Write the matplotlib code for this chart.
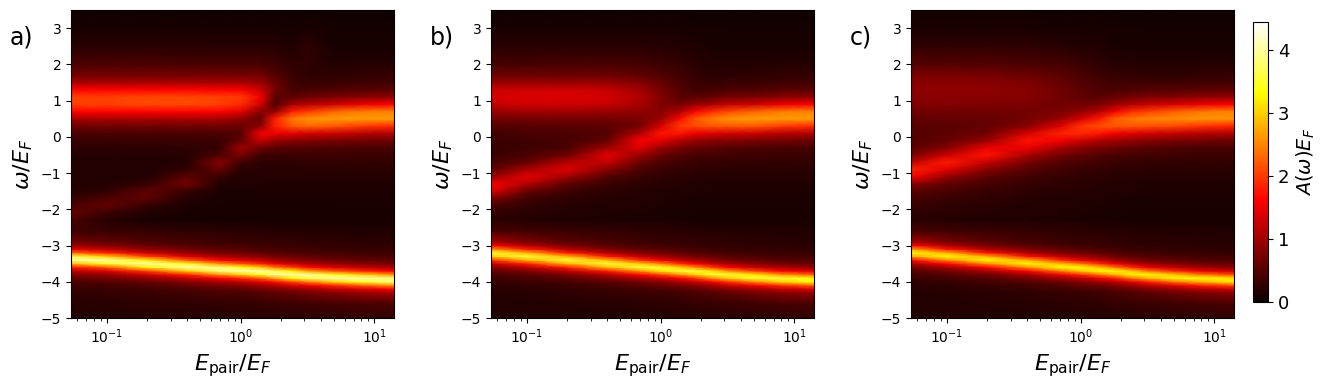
import numpy as np
import matplotlib
matplotlib.use('Agg')
import matplotlib.pyplot as plt

# columns of the tables below
e_pair = [0.054, 0.1, 0.2, 0.4, 0.7, 1.0, 1.4, 1.8, 2.4, 3.2, 5.0, 8.0, 14.0]
omega = [-5, -4.6,
         -4.3, -4.2, -4.1, -4.0, -3.9, -3.8, -3.7, -3.6, -3.5, -3.4, -3.3, -3.2, -3.1, -3.0, -2.9,
         -2.6,
         -2.3, -2.1, -1.9, -1.7, -1.5, -1.3, -1.1, -0.9, -0.7, -0.5, -0.3, -0.1,
         0.1, 0.3, 0.5, 0.7, 0.9, 1.1, 1.3, 1.5, 1.7, 2.0, 2.5, 3.0, 3.5]

# one row per e_pair value, one entry per omega value
panel_a = [
    [.16,.2, .26,.31,.36,.44,.58,.8,1.15,1.75,2.85,4.0,3.6,2.35,1.45,.98,.7, .35, .42,.62,.42,.28,.2,.16,.14,.14,.15,.18,.24,.32,.45,.68,1.05,1.65,2.05,2.05,1.65,1.05,.72,.45,.2,.1,.05],
    [.17,.22, .28,.33,.4,.5,.68,.95,1.4,2.2,3.45,4.05,3.0,1.85,1.2,.82,.6, .32, .2,.32,.6,.48,.26,.18,.15,.14,.15,.18,.24,.32,.45,.68,1.05,1.65,2.05,2.05,1.65,1.05,.72,.45,.2,.1,.05],
    [.18,.24, .32,.38,.48,.63,.88,1.3,2.05,3.25,4.05,3.25,2.05,1.3,.88,.63,.48, .28, .12,.15,.28,.55,.58,.3,.19,.15,.15,.18,.24,.32,.45,.68,1.05,1.65,2.1,2.1,1.65,1.05,.72,.45,.2,.1,.05],
    [.18,.25, .37,.45,.6,.82,1.2,1.85,3.0,4.05,3.45,2.2,1.4,.95,.68,.5,.4, .25, .1,.11,.13,.17,.3,.7,.55,.28,.2,.2,.25,.32,.45,.68,1.05,1.65,2.1,2.1,1.65,1.05,.72,.42,.2,.1,.05],
    [.19,.27, .42,.55,.74,1.05,1.6,2.6,3.85,3.85,2.6,1.6,1.05,.74,.55,.42,.35, .24, .1,.1,.11,.12,.13,.17,.3,.6,.85,.45,.3,.33,.45,.68,1.05,1.6,2.05,2.05,1.6,1.05,.72,.42,.2,.1,.05],
    [.2,.28, .45,.6,.82,1.2,1.85,3.0,4.05,3.45,2.2,1.4,.95,.68,.5,.4,.33, .22, .1,.1,.1,.11,.12,.14,.17,.22,.35,.75,1.0,.6,.5,.65,.9,1.45,1.9,2.0,1.6,1.05,.72,.42,.2,.1,.05],
    [.2,.3, .5,.68,.95,1.4,2.2,3.45,4.05,3.0,1.85,1.2,.82,.6,.45,.37,.31, .2, .1,.1,.1,.11,.13,.15,.18,.2,.25,.35,.65,1.25,1.55,.85,.6,.85,1.35,1.55,1.3,.95,.7,.42,.2,.1,.05],
    [.21,.32, .56,.77,1.1,1.7,2.7,3.95,3.7,2.45,1.5,1.0,.72,.53,.41,.34,.29, .19, .1,.1,.1,.11,.13,.15,.18,.2,.25,.33,.55,.95,1.5,1.8,1.8,.9,.45,.55,.7,.65,.5,.35,.18,.1,.05],
    [.22,.34, .63,.88,1.3,2.05,3.25,4.05,3.25,2.05,1.3,.88,.63,.48,.38,.32,.27, .18, .1,.1,.1,.11,.13,.15,.18,.2,.25,.33,.5,.85,1.45,2.2,2.4,1.8,1.0,.55,.4,.38,.32,.25,.14,.08,.05],
    [.23,.36, .72,1.0,1.5,2.45,3.7,3.95,2.7,1.7,1.1,.77,.56,.43,.35,.3,.25, .17, .1,.1,.1,.11,.13,.15,.18,.22,.27,.35,.48,.8,1.35,2.3,2.6,2.0,1.15,.65,.42,.3,.24,.25,.25,.12,.05],
    [.24,.4, .82,1.2,1.85,3.0,4.05,3.45,2.2,1.4,.95,.68,.5,.4,.33,.28,.24, .16, .1,.1,.11,.12,.13,.15,.18,.22,.27,.35,.45,.75,1.3,2.2,2.65,2.3,1.3,.75,.48,.33,.25,.17,.1,.07,.05],
    [.25,.42, .95,1.4,2.2,3.45,4.05,3.0,1.85,1.2,.82,.6,.45,.37,.31,.26,.23, .15, .1,.1,.11,.12,.13,.15,.18,.22,.27,.33,.42,.7,1.15,2.0,2.65,2.45,1.5,.85,.52,.36,.27,.18,.1,.07,.05],
    [.26,.45, 1.05,1.6,2.6,3.85,3.85,2.6,1.6,1.05,.74,.55,.42,.35,.3,.25,.22, .14, .1,.1,.11,.12,.13,.15,.18,.22,.27,.33,.4,.65,1.1,1.9,2.65,2.5,1.6,.9,.55,.38,.28,.18,.1,.07,.05],
]

panel_b = [
    [.14,.16, .19,.21,.24,.29,.35,.44,.59,.83,1.22,1.92,3.0,3.55,2.6,1.6,1.05, .42, .22,.28,.4,.75,1.4,1.6,.95,.55,.4,.33,.3,.32,.38,.5,.7,.95,1.25,1.35,1.3,.95,.65,.4,.2,.1,.05],
    [.14,.17, .2,.24,.28,.33,.42,.55,.77,1.13,1.8,2.85,3.55,2.85,1.8,1.13,.77, .38, .18,.21,.27,.38,.62,1.1,1.45,1.05,.6,.42,.35,.36,.42,.52,.72,1.0,1.3,1.4,1.3,.95,.65,.4,.2,.1,.05],
    [.15,.18, .24,.28,.33,.42,.55,.77,1.13,1.8,2.85,3.55,2.85,1.8,1.13,.77,.55, .32, .15,.17,.2,.25,.35,.55,1.0,1.4,1.15,.65,.45,.4,.45,.55,.72,1.0,1.3,1.4,1.3,.95,.65,.42,.2,.1,.05],
    [.15,.2, .28,.33,.42,.55,.77,1.13,1.8,2.85,3.55,2.85,1.8,1.13,.77,.55,.42, .28, .13,.14,.16,.19,.24,.32,.48,.82,1.25,1.45,1.0,.6,.5,.55,.7,.95,1.25,1.35,1.25,.95,.65,.42,.2,.1,.05],
    [.16,.22, .32,.39,.52,.71,1.05,1.6,2.6,3.55,3.0,1.92,1.22,.83,.59,.44,.35, .25, .12,.13,.14,.16,.19,.24,.32,.44,.65,.95,1.4,1.6,1.1,.72,.75,.9,1.05,1.1,1.0,.8,.58,.4,.2,.1,.05],
    [.17,.24, .35,.45,.61,.85,1.27,2.05,3.15,3.5,2.5,1.52,1.0,.7,.5,.39,.31, .23, .11,.12,.13,.14,.17,.2,.26,.33,.45,.65,.95,1.45,1.75,1.35,.95,.85,.8,.8,.72,.6,.48,.34,.18,.1,.05],
    [.18,.26, .39,.52,.71,1.05,1.6,2.6,3.55,3.0,1.92,1.22,.83,.59,.44,.35,.29, .21, .11,.11,.12,.13,.15,.18,.22,.28,.36,.5,.72,1.1,1.75,2.0,1.7,1.1,.7,.52,.5,.45,.38,.28,.16,.09,.05],
    [.19,.28, .44,.59,.83,1.22,1.92,3.0,3.55,2.6,1.6,1.05,.71,.52,.39,.32,.27, .2, .1,.11,.11,.12,.14,.16,.2,.25,.32,.43,.62,.95,1.5,2.1,2.2,1.6,.9,.55,.38,.32,.28,.22,.14,.08,.05],
    [.2,.3, .5,.7,1.0,1.52,2.5,3.5,3.15,2.05,1.27,.85,.61,.45,.35,.29,.26, .19, .1,.1,.11,.12,.13,.15,.18,.23,.3,.4,.55,.85,1.4,2.2,2.45,1.9,1.05,.6,.4,.28,.22,.17,.11,.07,.05],
    [.21,.32, .59,.83,1.22,1.92,3.0,3.55,2.6,1.6,1.05,.71,.52,.39,.32,.27,.24, .18, .1,.1,.11,.12,.13,.15,.18,.22,.28,.37,.5,.8,1.35,2.2,2.6,2.1,1.2,.72,.45,.32,.24,.17,.1,.07,.05],
    [.22,.36, .7,1.0,1.52,2.5,3.5,3.15,2.05,1.27,.85,.61,.45,.35,.29,.26,.22, .17, .1,.1,.11,.12,.13,.15,.18,.22,.27,.35,.45,.75,1.3,2.2,2.65,2.3,1.3,.75,.48,.33,.25,.17,.1,.07,.05],
    [.24,.4, .83,1.22,1.92,3.0,3.55,2.6,1.6,1.05,.71,.52,.39,.32,.27,.24,.2, .16, .1,.1,.11,.12,.13,.15,.18,.22,.27,.33,.42,.7,1.15,2.0,2.65,2.45,1.5,.85,.52,.36,.27,.18,.1,.07,.05],
    [.25,.42, .92,1.4,2.25,3.35,3.35,2.25,1.4,.92,.64,.48,.37,.3,.26,.22,.19, .15, .1,.1,.11,.12,.13,.15,.18,.22,.27,.33,.4,.65,1.1,1.9,2.65,2.5,1.6,.9,.55,.38,.28,.18,.1,.07,.05],
]

panel_c = [
    [.14,.16, .18,.2,.22,.26,.32,.4,.52,.72,1.05,1.65,2.7,3.3,2.7,1.65,1.05, .44, .22,.26,.32,.4,.55,.85,1.6,1.85,1.2,.72,.55,.5,.5,.52,.58,.68,.8,.85,.88,.85,.75,.5,.25,.12,.06],
    [.14,.17, .19,.22,.26,.31,.39,.5,.7,1.02,1.6,2.55,3.3,2.8,1.75,1.1,.75, .38, .19,.22,.26,.32,.42,.58,.9,1.45,1.8,1.3,.8,.6,.55,.55,.6,.68,.8,.85,.88,.85,.75,.5,.25,.12,.06],
    [.15,.18, .22,.26,.31,.39,.5,.7,1.02,1.6,2.55,3.3,2.8,1.75,1.1,.75,.54, .32, .16,.18,.21,.25,.31,.4,.55,.82,1.25,1.75,1.5,.95,.68,.6,.6,.68,.78,.85,.88,.85,.72,.5,.25,.12,.06],
    [.15,.2, .26,.31,.39,.5,.7,1.02,1.6,2.55,3.3,2.8,1.75,1.1,.75,.54,.41, .28, .14,.15,.17,.2,.24,.3,.38,.52,.72,1.05,1.5,1.75,1.35,.85,.7,.7,.75,.82,.82,.78,.65,.45,.23,.12,.06],
    [.16,.22, .3,.37,.48,.66,.98,1.5,2.4,3.3,2.9,1.9,1.2,.82,.58,.43,.34, .25, .13,.14,.15,.17,.2,.24,.3,.38,.5,.7,1.05,1.55,1.85,1.4,.95,.75,.68,.68,.68,.62,.55,.4,.2,.1,.05],
    [.17,.24, .33,.42,.56,.8,1.18,1.9,2.95,3.3,2.45,1.5,1.0,.69,.49,.38,.3, .23, .12,.13,.14,.15,.18,.21,.26,.33,.42,.58,.85,1.3,1.9,1.95,1.35,.9,.68,.58,.55,.5,.42,.32,.17,.1,.05],
    [.18,.26, .37,.48,.66,.98,1.5,2.4,3.3,2.9,1.9,1.2,.82,.58,.43,.34,.28, .21, .11,.12,.13,.14,.16,.19,.23,.29,.37,.5,.72,1.1,1.75,2.15,1.8,1.15,.75,.55,.46,.4,.34,.25,.14,.09,.05],
    [.19,.28, .41,.55,.78,1.15,1.8,2.8,3.3,2.4,1.5,.98,.67,.49,.37,.3,.25, .2, .11,.11,.12,.13,.15,.17,.21,.26,.33,.45,.65,1.0,1.55,2.2,2.25,1.55,.95,.62,.45,.36,.29,.2,.12,.08,.05],
    [.2,.3, .47,.65,.94,1.42,2.35,3.25,2.95,1.9,1.2,.8,.57,.42,.33,.27,.24, .19, .1,.11,.11,.12,.14,.16,.19,.24,.3,.4,.58,.9,1.45,2.2,2.4,1.9,1.1,.7,.48,.36,.27,.18,.11,.07,.05],
    [.21,.32, .55,.78,1.15,1.8,2.8,3.3,2.4,1.5,.98,.67,.49,.37,.3,.25,.22, .18, .1,.1,.11,.12,.13,.15,.18,.22,.28,.37,.52,.82,1.35,2.15,2.5,2.05,1.25,.78,.5,.36,.26,.17,.1,.07,.05],
    [.22,.36, .66,.94,1.42,2.35,3.25,2.95,1.9,1.2,.8,.57,.42,.33,.27,.24,.21, .17, .1,.1,.11,.12,.13,.15,.18,.22,.27,.35,.46,.75,1.25,2.1,2.55,2.25,1.35,.8,.52,.36,.26,.17,.1,.07,.05],
    [.24,.4, .78,1.15,1.8,2.8,3.3,2.4,1.5,.98,.67,.49,.37,.3,.25,.22,.19, .16, .1,.1,.11,.12,.13,.15,.18,.22,.27,.33,.43,.7,1.15,1.95,2.6,2.4,1.5,.88,.54,.37,.27,.18,.1,.07,.05],
    [.25,.42, .86,1.32,2.1,3.15,3.15,2.1,1.32,.86,.6,.45,.35,.28,.24,.21,.18, .15, .1,.1,.11,.12,.13,.15,.18,.22,.27,.33,.4,.65,1.1,1.85,2.6,2.5,1.6,.92,.56,.38,.28,.18,.1,.07,.05],
]

panel_labels = ['a)', 'b)', 'c)']
panels = [panel_a, panel_b, panel_c]
W, H = 1324, 389
lefts = [71, 491, 911]

fig = plt.figure(figsize=(W / 100, H / 100), dpi=100)

for i in range(3):
    ax = fig.add_axes([lefts[i] / W, 1 - 318 / H, 323 / W, 308 / H])
    z = np.array(panels[i]).T
    mesh = ax.pcolormesh(e_pair, omega, z, cmap='hot', vmin=0, vmax=4.45, shading='gouraud')
    ax.set_xscale('log')
    ax.set_xlim(0.054, 14)
    ax.set_ylim(-5, 3.5)
    ax.set_yticks(range(-5, 4))
    ax.set_xlabel(r'$E_{\rm pair}/E_F$', fontsize=16)
    ax.set_ylabel(r'$\omega/E_F$', fontsize=16)
    fig.text((lefts[i] - 61) / W, 1 - 37 / H, panel_labels[i], fontsize=17, va='center')

cax = fig.add_axes([1253 / W, 1 - 302 / H, 15 / W, 280 / H])
cbar = fig.colorbar(mesh, cax=cax)
cbar.set_ticks([0, 1, 2, 3, 4])
cbar.ax.tick_params(labelsize=13)
cbar.set_label(r'$A(\omega)E_F$', fontsize=14)

fig.savefig('out.png', dpi=100)
